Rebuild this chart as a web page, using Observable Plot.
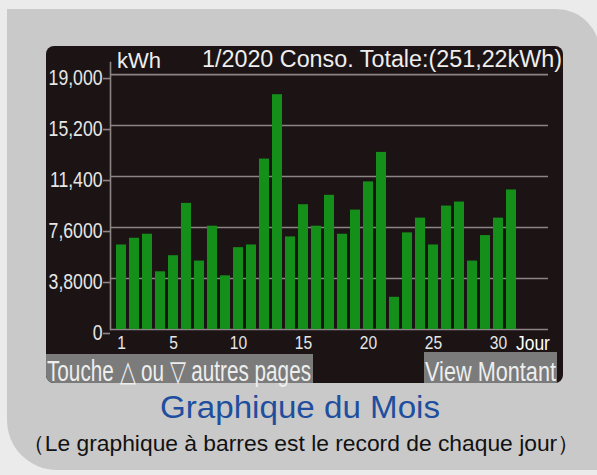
<!DOCTYPE html>
<html><head><meta charset="utf-8">
<script src="https://cdn.jsdelivr.net/npm/d3@7"></script>
<script src="https://cdn.jsdelivr.net/npm/@observablehq/plot@0.6"></script>
<style>
body{margin:0;background:#ebebeb;}
#wrap{position:relative;width:597px;height:475px;overflow:hidden;}
#wrap svg{position:absolute;left:0;top:0;}
.sans{font-family:"Liberation Sans",Arial,sans-serif;}
</style></head><body><div id="wrap">
<svg id="decor" width="597" height="475" xmlns="http://www.w3.org/2000/svg">
  <rect width="597" height="475" fill="#ebebeb"/>
  <path d="M7,9 H556 A44,44 0 0 1 600,53 V470 H57 A50,50 0 0 1 7,420 Z" fill="#c9c9c9"/>
  <defs><clipPath id="scr"><rect x="46" y="46" width="517" height="337" rx="8"/></clipPath></defs>
  <rect x="46" y="46" width="517" height="337" rx="8" fill="#1c1414"/>
  <g clip-path="url(#scr)">
    <rect x="40" y="354" width="273" height="32" fill="#7b7b7b"/>
    <rect x="424" y="352" width="133" height="34" fill="#7b7b7b"/>
  </g>
  <text class="sans" x="117" y="68" font-size="22" fill="#eee">kWh</text>
  <text class="sans" x="562" y="67" font-size="23" fill="#eee" text-anchor="end" textLength="360" lengthAdjust="spacingAndGlyphs">1/2020 Conso. Totale:(251,22kWh)</text>
  <text class="sans narrowed" x="516" y="349.5" font-size="20.5" fill="#fff">Jour</text>
  <text class="sans" x="47" y="381" font-size="29" fill="#eee" textLength="264" lengthAdjust="spacingAndGlyphs">Touche △ ou ▽ autres pages</text>
  <text class="sans" x="425" y="381" font-size="27" fill="#eee" textLength="131" lengthAdjust="spacingAndGlyphs">View Montant</text>
  <text class="sans" x="300" y="418" font-size="31" fill="#1f4e9e" text-anchor="middle" textLength="280" lengthAdjust="spacingAndGlyphs">Graphique du Mois</text>
  <text class="sans" x="22" y="451" font-size="22" fill="#111" textLength="558" lengthAdjust="spacingAndGlyphs">（Le graphique à barres est le record de chaque jour）</text>
</svg>
</div>
<script>
const days = [1,2,3,4,5,6,7,8,9,10,11,12,13,14,15,16,17,18,19,20,21,22,23,24,25,26,27,28,29,30,31];
const consumption = [6300,6800,7100,4300,5500,9400,5100,7700,4000,6100,6300,12700,17500,6900,9300,7700,10000,7100,8900,11000,13200,2400,7200,8300,6300,9200,9500,5100,7000,8300,10400];
const yTicks = [0,3800,7600,11400,15200,19000];
const yTickLabels = ["0","3,8000","7,6000","11,400","15,200","19,000"];
const xTicks = [1,5,10,15,20,25,30];
const yTop = 19900;

const data = days.map((d,i)=>({day:d, kwh:consumption[i]}));
const grid = "#8d8585";

const chart = Plot.plot({
  width:597, height:475,
  marginLeft:110, marginRight:49, marginTop:62, marginBottom:146,
  style:{background:"transparent", color:"#ddd", fontFamily:"'Liberation Sans',Arial,sans-serif", fontSize:"20px"},
  x:{type:"band", domain:days, paddingInner:0.26, paddingOuter:1.36, align:0.156, label:null},
  y:{domain:[0,yTop], label:null},
  marks:[
    Plot.gridY(yTicks, {stroke:grid, strokeOpacity:1, strokeWidth:1.6}),
    Plot.barY(data, {x:"day", y:"kwh", fill:"#14901a"}),
    Plot.frame({anchor:"left", stroke:grid, strokeWidth:1.6}),
    Plot.axisY(yTicks, {tickFormat:d=>yTickLabels[yTicks.indexOf(d)], tickSize:7, tickPadding:1, dy:4, stroke:grid, strokeWidth:1.6, fill:"#e6e6e6", fontSize:21.5, label:null}),
    Plot.axisX(xTicks, {tickSize:0, tickPadding:6, fill:"#e6e6e6", fontSize:19, label:null})
  ]
});
document.getElementById("wrap").appendChild(chart);

// emulate a narrow (Arial Narrow-like) face by compressing glyphs horizontally
function narrow(el, f){
  const L = el.getComputedTextLength();
  el.setAttribute("textLength", (L*f).toFixed(2));
  el.setAttribute("lengthAdjust", "spacingAndGlyphs");
}
chart.querySelectorAll('g[aria-label="x-axis tick label"] text, g[aria-label="y-axis tick label"] text').forEach(t=>narrow(t,0.82));
document.querySelectorAll('#decor .narrowed').forEach(t=>narrow(t,0.85));
</script>
</body></html>
